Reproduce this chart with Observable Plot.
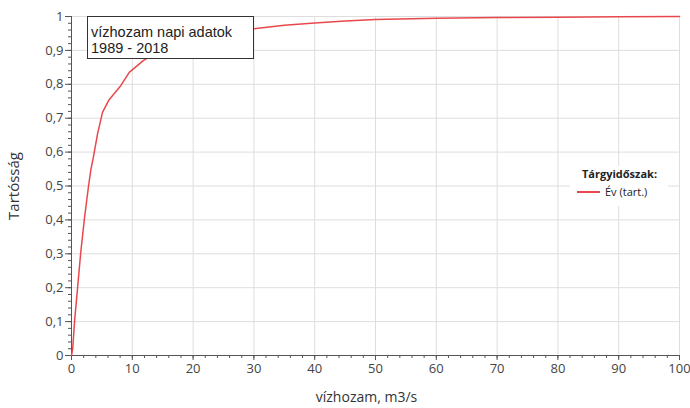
<!DOCTYPE html>
<html><head><meta charset="utf-8">
<script src="https://cdn.jsdelivr.net/npm/d3@7"></script>
<script src="https://cdn.jsdelivr.net/npm/@observablehq/plot@0.6"></script>
<style>
body{margin:0;background:#fff;font-family:"Open Sans",sans-serif;}
#wrap{position:relative;width:690px;height:408px;overflow:hidden;}
#note{position:absolute;left:87px;top:16px;width:167px;height:43px;box-sizing:border-box;border:1px solid #333;background:#fff;font-family:"Liberation Sans",Arial,sans-serif;font-size:14.5px;color:#222;}
#note div{position:absolute;left:3px;white-space:nowrap;line-height:16px;}
#legend{position:absolute;left:570px;top:166px;width:98px;height:40px;background:#fff;font-size:11px;color:#222;}
#legend .t{position:absolute;left:12px;top:0px;font-weight:bold;white-space:nowrap;}
#legend .sw{position:absolute;left:7px;top:25px;width:23px;height:2px;background:#e8484d;}
#legend .l{position:absolute;left:35px;top:18px;white-space:nowrap;}
</style></head><body><div id="wrap"></div>
<script>
const flow     = [0, 0.2, 0.5, 1.0, 1.5, 2.1, 2.8, 3.2, 3.6, 4.3, 5.1, 6.1, 7.0, 8.1, 9.5, 11.8, 15, 20, 25, 30, 35, 40, 45, 50, 60, 70, 80, 90, 100];
const duration = [0, 0.02, 0.10, 0.20, 0.30, 0.40, 0.50, 0.55, 0.585, 0.655, 0.717, 0.752, 0.772, 0.796, 0.835, 0.87, 0.905, 0.935, 0.953, 0.964, 0.974, 0.981, 0.987, 0.991, 0.995, 0.997, 0.998, 0.999, 1.0];
const xTicks = [0, 10, 20, 30, 40, 50, 60, 70, 80, 90, 100];
const yTicks = [0, 0.1, 0.2, 0.3, 0.4, 0.5, 0.6, 0.7, 0.8, 0.9, 1];
const yTickLabels = ["0", "0,1", "0,2", "0,3", "0,4", "0,5", "0,6", "0,7", "0,8", "0,9", "1"];
const xMinor = d3.range(0, 101, 2);
const yMinor = d3.range(0, 51).map(i => i / 50);
const xTitle = "vízhozam, m3/s";
const yTitle = "Tartósság";
const noteLines = ["vízhozam napi adatok", "1989 - 2018"];
const legendTitle = "Tárgyidőszak:";
const seriesName = "Év (tart.)";

const data = flow.map((f, i) => ({flow: f, duration: duration[i]}));
const axisColor = "#555";
const chart = Plot.plot({
  width: 690, height: 408,
  marginLeft: 71, marginRight: 11, marginTop: 16, marginBottom: 53,
  style: {fontFamily: "Open Sans, sans-serif", fontSize: "13px", color: "#444", background: "#fff"},
  x: {domain: [0, 100]},
  y: {domain: [0, 1]},
  marks: [
    Plot.gridX(xTicks, {stroke: "#dedede", strokeOpacity: 1}),
    Plot.gridY(yTicks, {stroke: "#dedede", strokeOpacity: 1}),
    Plot.axisX(xMinor, {tickSize: 3, fill: "none", stroke: axisColor, label: null}),
    Plot.axisX(xTicks, {tickSize: 5, tickPadding: 3, stroke: axisColor, label: null, tickFormat: d => String(d)}),
    Plot.axisY(yMinor, {tickSize: 3, fill: "none", stroke: axisColor, label: null}),
    Plot.axisY(yTicks, {tickSize: 6, tickPadding: 2, stroke: axisColor, label: null, tickFormat: d => yTickLabels[yTicks.indexOf(d)]}),
    Plot.ruleX([0], {stroke: axisColor}),
    Plot.ruleY([0], {stroke: axisColor}),
    Plot.line(data, {x: "flow", y: "duration", stroke: "#e8484d", strokeWidth: 1.5}),
    Plot.text([xTitle], {frameAnchor: "bottom", dx: -9, dy: 46, fontSize: 14, fill: "#333"}),
    Plot.text([yTitle], {frameAnchor: "left", rotate: -90, dx: -57, textAnchor: "middle", lineAnchor: "middle", fontSize: 15, fill: "#333"})
  ]
});
const wrap = document.getElementById("wrap");
wrap.appendChild(chart);
const note = document.createElement("div");
note.id = "note";
note.innerHTML = noteLines.map((t, i) => `<div style="top:${7 + i * 16}px">${t}</div>`).join("");
wrap.appendChild(note);
const legend = document.createElement("div");
legend.id = "legend";
legend.innerHTML = `<div class="t">${legendTitle}</div><div class="sw"></div><div class="l">${seriesName}</div>`;
wrap.appendChild(legend);
</script>
</body></html>
